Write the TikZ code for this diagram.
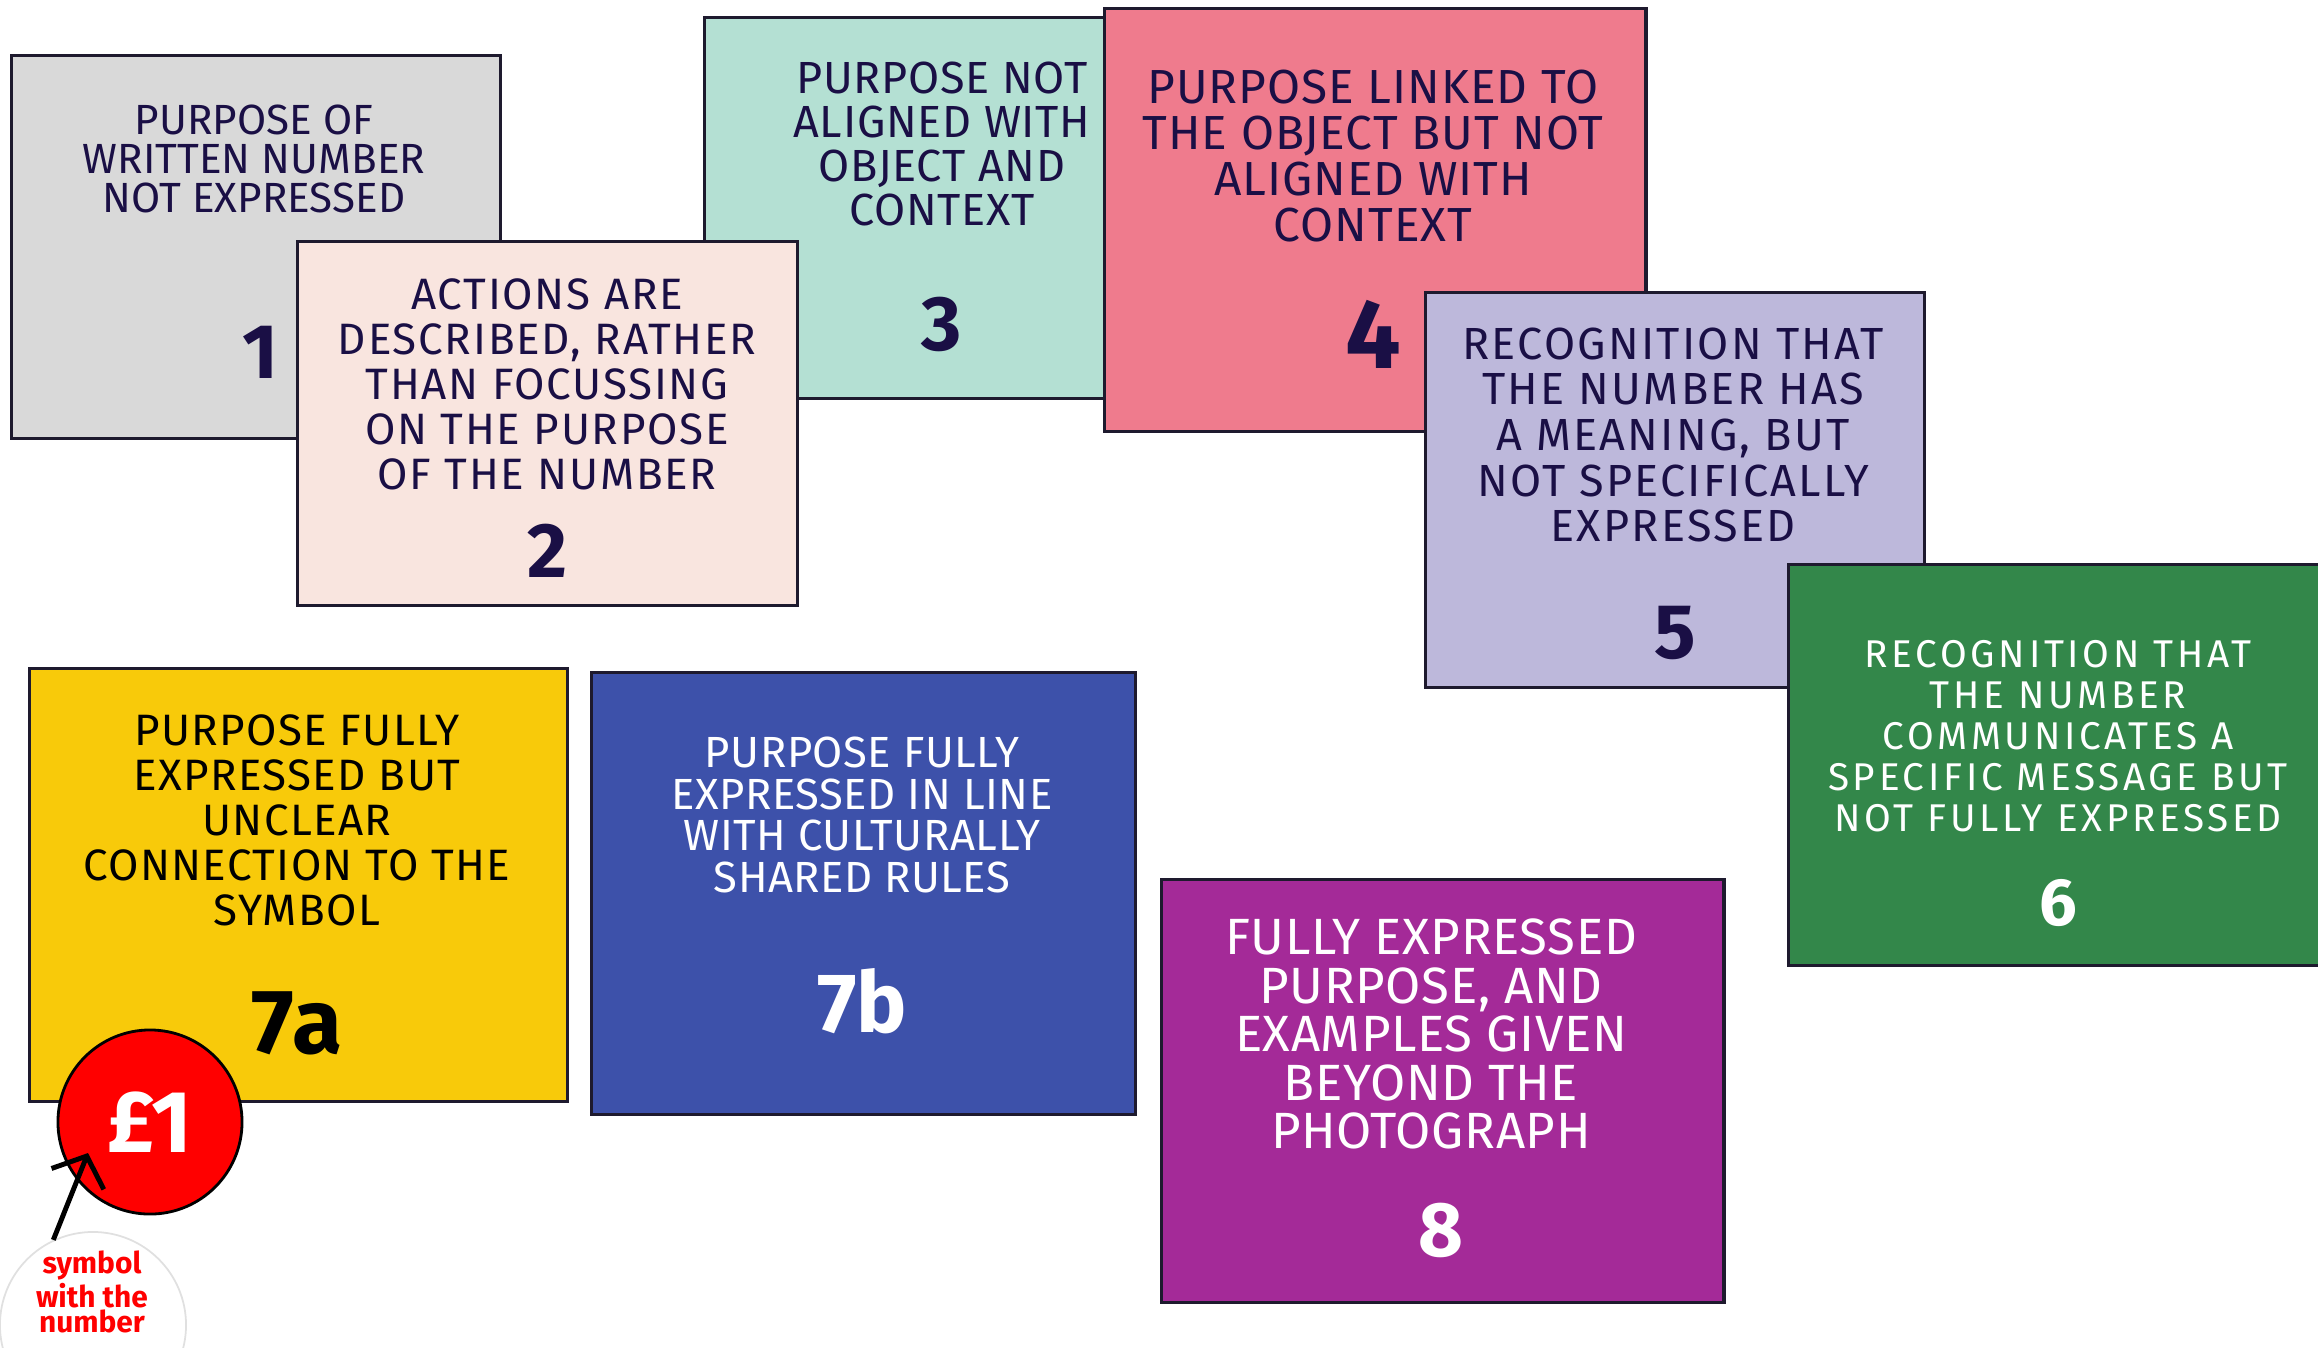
\documentclass[tikz,border=0pt]{standalone}
\usepackage{fontspec}
\setmainfont{Fira Sans}
\usetikzlibrary{arrows.meta}

\definecolor{edge}{HTML}{1E1A2E}
\definecolor{ink}{HTML}{1A0F45}
\definecolor{cGrey}{HTML}{D9D9D9}
\definecolor{cBlush}{HTML}{F9E5DF}
\definecolor{cMint}{HTML}{B4E0D3}
\definecolor{cRose}{HTML}{EF7B8D}
\definecolor{cLilac}{HTML}{BDB8DB}
\definecolor{cGreen}{HTML}{33874A}
\definecolor{cYellow}{HTML}{F8CA0A}
\definecolor{cBlue}{HTML}{3D51AA}
\definecolor{cPurple}{HTML}{A42A98}
\definecolor{coin}{HTML}{FF0000}

% size, line spacing and letter spacing of a card text
\newcommand{\fs}[2]{\fontsize{#1}{#2}\selectfont}
\newcommand{\ls}[1]{\addfontfeature{LetterSpace=#1}}

\begin{document}
\begin{tikzpicture}[x=0.01cm, y=-0.01cm,
  card/.style={draw=edge, line width=0.9pt, anchor=north west, inner sep=0pt},
  lbl/.style={align=center, inner sep=0pt, text=ink},
  num/.style={inner sep=0pt, text=ink, font=\bfseries\fs{22}{22}}]
\useasboundingbox (0,0) rectangle (2318,1347);
\clip (0,0) rectangle (2318,1347);

% level 1
\node[card, fill=cGrey, minimum width=4.89cm, minimum height=3.83cm] (c1) at (10,54) {};
\node[lbl, font=\fs{12}{11.1}] (t1) at (254,159) {PURPOSE OF\\WRITTEN NUMBER\\NOT EXPRESSED};
\node[num] (n1) at (260,352) {1};

% level 3 (lies under level 2)
\node[card, fill=cMint, minimum width=4.00cm, minimum height=3.81cm] (c3) at (703,16) {};
\node[lbl, font=\fs{12.8}{12.6}\ls{1.6}] (t3) at (942,144) {PURPOSE NOT\\ALIGNED WITH\\OBJECT AND\\CONTEXT};
\node[num] (n3) at (942,324) {3};

% level 2
\node[card, fill=cBlush, minimum width=5.00cm, minimum height=3.64cm] (c2) at (296,240) {};
\node[lbl, font=\fs{12.5}{12.8}\ls{4}] (t2) at (547,384) {ACTIONS ARE\\DESCRIBED, RATHER\\THAN FOCUSSING\\ON THE PURPOSE\\OF THE NUMBER};
\node[num] (n2) at (547,551) {2};

% level 4
\node[card, fill=cRose, minimum width=5.41cm, minimum height=4.23cm] (c4) at (1103,7) {};
\node[lbl, font=\fs{13.6}{13.1}\ls{2}] (t4) at (1373,156) {PURPOSE LINKED TO\\THE OBJECT BUT NOT\\ALIGNED WITH\\CONTEXT};
\node[num, font=\bfseries\fs{28}{28}] (n4) at (1373,334) {4};

% level 5
\node[card, fill=cLilac, minimum width=4.99cm, minimum height=3.95cm] (c5) at (1424,291) {};
\node[lbl, font=\fs{12.8}{13}\ls{5}] (t5) at (1673,435) {RECOGNITION THAT\\THE NUMBER HAS\\A MEANING, BUT\\NOT SPECIFICALLY\\EXPRESSED};
\node[num] (n5) at (1675,633) {5};

% level 6
\node[card, fill=cGreen, minimum width=5.45cm, minimum height=4.01cm] (c6) at (1787,563) {};
\node[lbl, text=white, font=\fs{11}{11.7}\ls{9.5}] (t6) at (2058,736) {RECOGNITION THAT\\THE NUMBER\\COMMUNICATES A\\SPECIFIC MESSAGE BUT\\NOT FULLY EXPRESSED};
\node[num, text=white, font=\bfseries\fs{19}{19}] (n6) at (2058,903) {6};

% level 7a
\node[card, fill=cYellow, minimum width=5.38cm, minimum height=4.33cm] (c7a) at (28,667) {};
\node[lbl, text=black, font=\fs{12.5}{12.8}\ls{3}] (t7a) at (297,820) {PURPOSE FULLY\\EXPRESSED BUT\\UNCLEAR\\CONNECTION TO THE\\SYMBOL};
\node[num, text=black, font=\bfseries\fs{26}{26}] (n7a) at (297,1023) {7a};

% level 7b
\node[card, fill=cBlue, minimum width=5.44cm, minimum height=4.42cm] (c7b) at (590,671) {};
\node[lbl, text=white, font=\fs{12.4}{11.9}\ls{1.2}] (t7b) at (862,815) {PURPOSE FULLY\\EXPRESSED IN LINE\\WITH CULTURALLY\\SHARED RULES};
\node[num, text=white, font=\bfseries\fs{24}{24}] (n7b) at (862,1001) {7b};

% level 8
\node[card, fill=cPurple, minimum width=5.62cm, minimum height=4.23cm] (c8) at (1160,878) {};
\node[lbl, text=white, font=\fs{14.5}{13.8}\ls{1.2}] (t8) at (1431,1034) {FULLY EXPRESSED\\PURPOSE, AND\\EXAMPLES GIVEN\\BEYOND THE\\PHOTOGRAPH};
\node[num, text=white] (n8) at (1441,1230) {8};

% the symbol and its note
\node[circle, fill=coin, draw=black, line width=0.8pt, minimum size=1.84cm, inner sep=0pt,
      text=white, font=\bfseries\fs{25}{25}] (sym) at (150,1122) {£1};
\node[circle, fill=white, draw=black!12, line width=0.5pt, minimum size=1.86cm, inner sep=0pt] (note) at (93,1325) {};
\node[align=center, inner sep=0pt, text=coin, font=\bfseries\fs{8.5}{7.1}] (notetext) at (92,1292) {symbol\\with the\\number};
\coordinate (tip) at (88,1153);
\draw[line width=1.4pt, -{Straight Barb[length=7pt, width=16pt]}] (note.115) -- (tip);
\end{tikzpicture}
\end{document}
